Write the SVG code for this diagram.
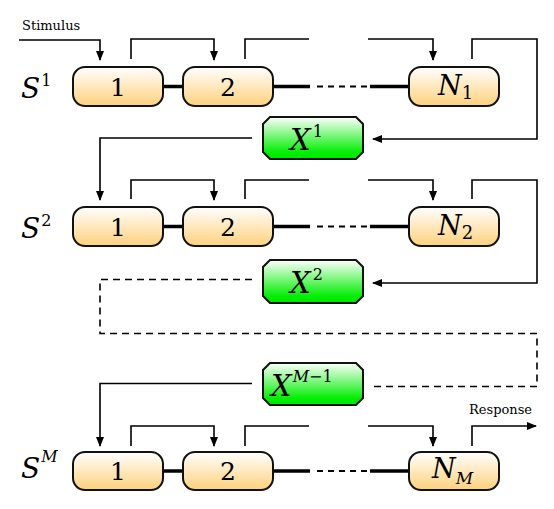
<svg xmlns="http://www.w3.org/2000/svg" width="554" height="509" viewBox="0 0 554 509">
<defs>
<linearGradient id="og" x1="0" y1="0" x2="0" y2="1">
<stop offset="0" stop-color="#ffffff"/>
<stop offset="1" stop-color="#ffd17c"/>
</linearGradient>
<linearGradient id="gg" x1="0" y1="0" x2="0" y2="1">
<stop offset="0" stop-color="#ffffff"/>
<stop offset="0.85" stop-color="#00ee00"/>
<stop offset="1" stop-color="#00e600"/>
</linearGradient>
<marker id="ah" markerWidth="10" markerHeight="8" refX="9" refY="4" orient="auto" markerUnits="userSpaceOnUse">
<path d="M0,0 L10,4 L0,8 Z" fill="#000"/>
</marker>
</defs>
<style>
.node rect{fill:url(#og);stroke:#111;stroke-width:2}
.x polygon{fill:url(#gg);stroke:#111;stroke-width:2}
text{font-family:'DejaVu Serif',serif;fill:#000}
.it{font-style:italic}
.c{fill:none;stroke:#000;stroke-width:1.6}
.a{marker-end:url(#ah)}
.thick{stroke:#000;stroke-width:3.5}
.dash{fill:none;stroke:#000;stroke-width:1.6;stroke-dasharray:7,5}
.sdash{stroke:#000;stroke-width:2;stroke-dasharray:6,5}
</style>

<g id="labels">
<text x="22" y="30" font-size="13">Stimulus</text>
<text x="469" y="414" font-size="13">Response</text>
<text class="it" x="21" y="98" font-size="28">S<tspan font-style="normal" font-size="16" dx="1" dy="-12">1</tspan></text>
<text class="it" x="21" y="238" font-size="28">S<tspan font-style="normal" font-size="16" dx="1" dy="-12">2</tspan></text>
<text class="it" x="21" y="478" font-size="28">S<tspan font-size="16" dx="1" dy="-16">M</tspan></text>
</g>

<g id="connectors">
<path class="c a" d="M19,40 H100 V60"/>
<path class="c a" d="M131,59 V39 H214 V60"/>
<path class="c" d="M245,59 V39 H309"/>
<path class="c a" d="M368,39 H433 V60"/>
<path class="c a" d="M472,59 V39 H537 V139 H373"/>
<line class="thick" x1="163" y1="86.5" x2="183" y2="86.5"/>
<line class="thick" x1="273" y1="86.5" x2="310" y2="86.5"/>
<line class="sdash" x1="317" y1="86.5" x2="370" y2="86.5"/>
<line class="thick" x1="370" y1="86.5" x2="409" y2="86.5"/>
<path class="c a" d="M252,138 H100 V200"/>
<path class="c a" d="M131,199 V180 H214 V200"/>
<path class="c" d="M245,199 V180 H309"/>
<path class="c a" d="M368,180 H433 V200"/>
<path class="c a" d="M472,199 V180 H537 V283 H373"/>
<line class="thick" x1="163" y1="226.5" x2="183" y2="226.5"/>
<line class="thick" x1="273" y1="226.5" x2="310" y2="226.5"/>
<line class="sdash" x1="317" y1="226.5" x2="370" y2="226.5"/>
<line class="thick" x1="370" y1="226.5" x2="409" y2="226.5"/>
<path class="dash" d="M252,279.5 H100 V333.5 H537 V386.5 H370"/>
<path class="c a" d="M252,383.5 H100 V446"/>
<path class="c a" d="M131,446 V426 H214 V446"/>
<path class="c" d="M245,446 V426 H309"/>
<path class="c a" d="M368,426 H433 V446"/>
<path class="c a" d="M472,446 V426 H536"/>
<line class="thick" x1="163" y1="471" x2="183" y2="471"/>
<line class="thick" x1="273" y1="471" x2="310" y2="471"/>
<line class="sdash" x1="317" y1="471" x2="370" y2="471"/>
<line class="thick" x1="370" y1="471" x2="409" y2="471"/>
</g>

<g id="n1-1" class="node"><rect x="73" y="67" width="90" height="39" rx="12"/><text x="118" y="96" font-size="25" text-anchor="middle">1</text></g>
<g id="n1-2" class="node"><rect x="183" y="67" width="90" height="39" rx="12"/><text x="228" y="96" font-size="25" text-anchor="middle">2</text></g>
<g id="n1-N" class="node"><rect x="409" y="67" width="90" height="39" rx="12"/><text class="it" x="438" y="95" font-size="27">N<tspan font-style="normal" font-size="18" dx="0" dy="4">1</tspan></text></g>

<g id="n2-1" class="node"><rect x="73" y="207" width="90" height="39" rx="12"/><text x="118" y="236" font-size="25" text-anchor="middle">1</text></g>
<g id="n2-2" class="node"><rect x="183" y="207" width="90" height="39" rx="12"/><text x="228" y="236" font-size="25" text-anchor="middle">2</text></g>
<g id="n2-N" class="node"><rect x="409" y="207" width="90" height="39" rx="12"/><text class="it" x="438" y="235" font-size="27">N<tspan font-style="normal" font-size="18" dx="0" dy="4">2</tspan></text></g>

<g id="nM-1" class="node"><rect x="73" y="452" width="90" height="38" rx="12"/><text x="118" y="480" font-size="25" text-anchor="middle">1</text></g>
<g id="nM-2" class="node"><rect x="183" y="452" width="90" height="38" rx="12"/><text x="228" y="480" font-size="25" text-anchor="middle">2</text></g>
<g id="nM-N" class="node"><rect x="409" y="452" width="90" height="38" rx="12"/><text class="it" x="432" y="478" font-size="27">N<tspan font-size="17" dx="0" dy="6">M</tspan></text></g>

<g id="x1" class="x"><polygon points="270,117 356,117 363,124 363,152 356,159 270,159 263,152 263,124"/><text class="it" x="290" y="150" font-size="29">X<tspan font-style="normal" font-size="16" dx="2" dy="-13">1</tspan></text></g>
<g id="x2" class="x"><polygon points="270,260 356,260 363,267 363,296 356,303 270,303 263,296 263,267"/><text class="it" x="290" y="293" font-size="29">X<tspan font-style="normal" font-size="16" dx="2" dy="-13">2</tspan></text></g>
<g id="xM" class="x"><polygon points="270,363 356,363 363,370 363,398 356,405 270,405 263,398 263,370"/><text class="it" x="271" y="396" font-size="29">X<tspan font-size="16" dx="1" dy="-14">M</tspan><tspan font-style="normal" font-size="16">−1</tspan></text></g>
</svg>
